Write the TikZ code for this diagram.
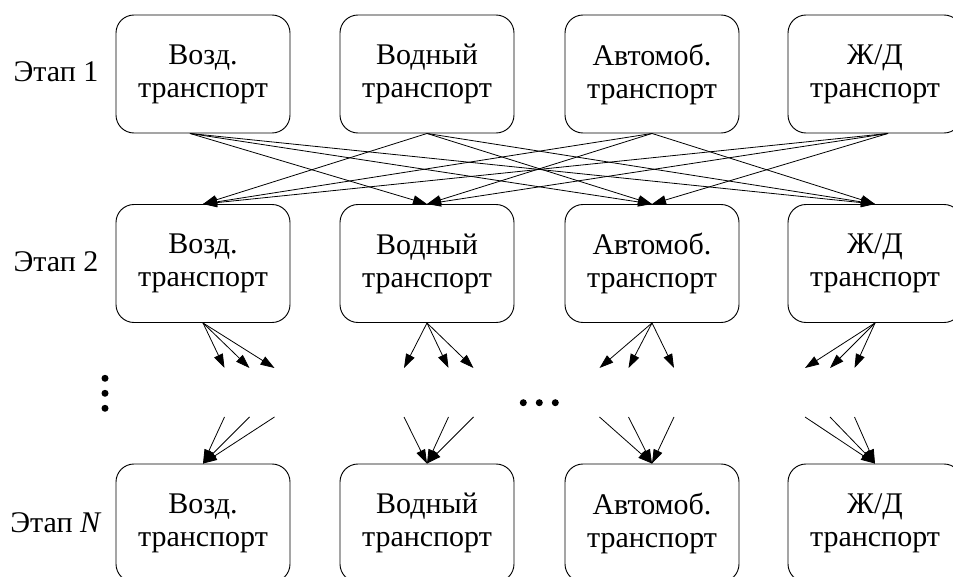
\documentclass[tikz,border=0pt]{standalone}
\usepackage{fontspec}
\setmainfont{Liberation Serif}
\usetikzlibrary{arrows.meta,calc}
\begin{document}
\begin{tikzpicture}[x=0.75pt,y=-0.75pt,
  mode/.style={draw,line width=0.7pt,rounded corners=13.5pt,
    minimum width=130.5pt,minimum height=88.5pt,inner sep=0pt,
    align=center,font=\fontsize{22.5}{24.75}\selectfont},
  stage/.style={anchor=base,inner sep=0pt,font=\fontsize{22.5}{24.75}\selectfont},
  link/.style={line width=0.6pt,-{Triangle[length=10.5pt,width=7pt]}},
  dot/.style={circle,fill,inner sep=0pt,minimum size=5.25pt}]
\useasboundingbox (0,0) rectangle (953,577);
\clip (0,0) rectangle (953,577);

% transport modes, three stages
\foreach \r/\y in {1/74,2/263.5,3/523}{
  \node[mode] (r\r c1) at (203,\y) {Возд.\\транспорт};
  \node[mode] (r\r c2) at (427,\y) {Водный\\транспорт};
  \node[mode] (r\r c3) at (652,\y) {Автомоб.\\транспорт};
  \node[mode] (r\r c4) at (875,\y) {Ж/Д\\транспорт};
}

% stage labels
\node[stage] (s1) at (56,82) {Этап 1};
\node[stage] (s2) at (56,272) {Этап 2};
\node[stage] (sN) at (56,532) {Этап \textit{N}};

% stage 1 -> stage 2: every change of mode
\foreach \s/\o in {1/-13,2/0,3/0,4/13}{
  \foreach \t in {1,...,4}{
    \ifnum\s=\t\relax\else
      \draw[link] ($(r1c\s.south)+(\o,0)$) -- (r2c\t.north);
    \fi
  }
}

% open ends between stage 2 and stage N
\foreach \c/\a/\b/\d in {1/224.5/249.5/274.5,2/404/448.5/473.5,
                         3/599.5/628.5/674,4/805/830/854.5}{
  \coordinate (m\c a) at (\a,368);
  \coordinate (m\c b) at (\b,368);
  \coordinate (m\c c) at (\d,368);
  \coordinate (n\c a) at (\a,417);
  \coordinate (n\c b) at (\b,417);
  \coordinate (n\c c) at (\d,417);
  \foreach \k in {a,b,c}{
    \draw[link] (r2c\c.south) -- (m\c\k);
    \draw[link] (n\c\k) -- (r3c\c.north);
  }
}

% ellipses
\node[dot] (v1) at (105,378.3) {};
\node[dot] (v2) at (105,393.3) {};
\node[dot] (v3) at (105,408.3) {};
\node[dot] (h1) at (523.3,402.7) {};
\node[dot] (h2) at (539.3,402.7) {};
\node[dot] (h3) at (555.3,402.7) {};
\end{tikzpicture}
\end{document}
